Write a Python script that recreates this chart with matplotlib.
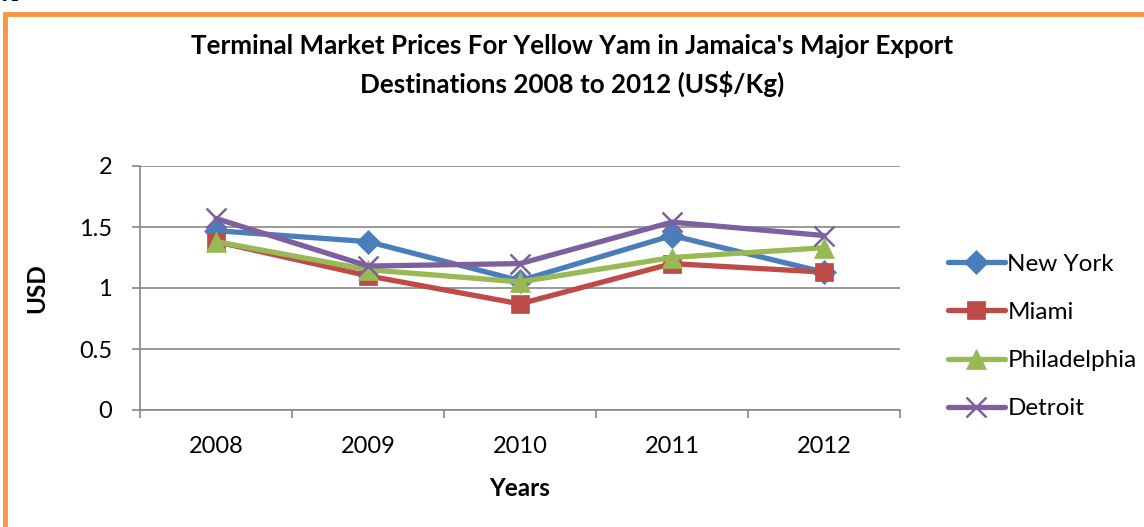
import matplotlib.pyplot as plt
from matplotlib.patches import Rectangle

years = ["2008", "2009", "2010", "2011", "2012"]
new_york = [1.47, 1.38, 1.06, 1.43, 1.13]
miami = [1.38, 1.10, 0.87, 1.20, 1.13]
philadelphia = [1.38, 1.15, 1.05, 1.25, 1.33]
detroit = [1.57, 1.18, 1.20, 1.54, 1.43]

series = [
    ("New York", new_york, "#4a7ebb", "D", 12),
    ("Miami", miami, "#be4b48", "s", 13.5),
    ("Philadelphia", philadelphia, "#98b954", "^", 14),
    ("Detroit", detroit, "#7d60a0", "x", 14),
]

plt.rcParams['font.family'] = ['Lato', 'DejaVu Sans']

fig = plt.figure(figsize=(11.44, 5.27), dpi=100)
ax = fig.add_axes([140 / 1144, 1 - 410 / 527, 760 / 1144, 244 / 527])

x = list(range(len(years)))
for name, vals, color, marker, ms in series:
    ax.plot(x, vals, color=color, linewidth=3.8, marker=marker, markersize=ms,
            markeredgewidth=1.8 if marker == "x" else 0.5, markeredgecolor=color,
            label=name, solid_capstyle="round")

ax.set_xlim(-0.5, len(years) - 0.5)
ax.set_ylim(0, 2)
ax.set_yticks([0, 0.5, 1, 1.5, 2])
ax.set_yticklabels(["0", "0.5", "1", "1.5", "2"])
ax.set_xticks(x)
ax.set_xticklabels(years)
ax.set_xticks([i - 0.5 for i in range(len(years) + 1)], minor=True)
ax.tick_params(axis="x", which="major", length=0, pad=19, labelsize=17)
ax.tick_params(axis="x", which="minor", length=6, color="#878787", width=1.2)
ax.tick_params(axis="y", length=6, color="#878787", width=1.2, labelsize=17, pad=14)
ax.grid(axis="y", color="#878787", linewidth=1.2)
ax.set_axisbelow(True)
for side in ["top", "right"]:
    ax.spines[side].set_visible(False)
for side in ["left", "bottom"]:
    ax.spines[side].set_color("#878787")
    ax.spines[side].set_linewidth(1.2)

ax.set_xlabel("Years", fontsize=17.5, fontweight="bold", labelpad=14)
ax.set_ylabel("USD", fontsize=17.5, fontweight="bold", labelpad=22)

fig.text(0.5, 1 - 46 / 527, "Terminal Market Prices For Yellow Yam in Jamaica's Major Export",
         ha="center", va="center", fontsize=18.7, fontweight="bold")
fig.text(0.5, 1 - 84 / 527, "Destinations 2008 to 2012 (US$/Kg)",
         ha="center", va="center", fontsize=18.7, fontweight="bold")

ax.legend(loc="upper left", bbox_to_anchor=(938 / 1144, 1 - 244 / 527),
          bbox_transform=fig.transFigure, frameon=False, fontsize=17.5,
          handlelength=2.35, handletextpad=0.1, labelspacing=1.12, borderaxespad=0)

# orange frame and clipped caption above it
fig.patches.append(Rectangle((5 / 1144, -0.1), 1.2, 1 - 14 / 527 + 0.1,
                             transform=fig.transFigure, fill=False,
                             edgecolor="#f79646", linewidth=3.5))
fig.text(-28 / 1144, 1 + 3 / 527, "Figure 2", fontsize=10, style="italic",
         ha="left", va="center")

fig.savefig("out.png", dpi=100)
